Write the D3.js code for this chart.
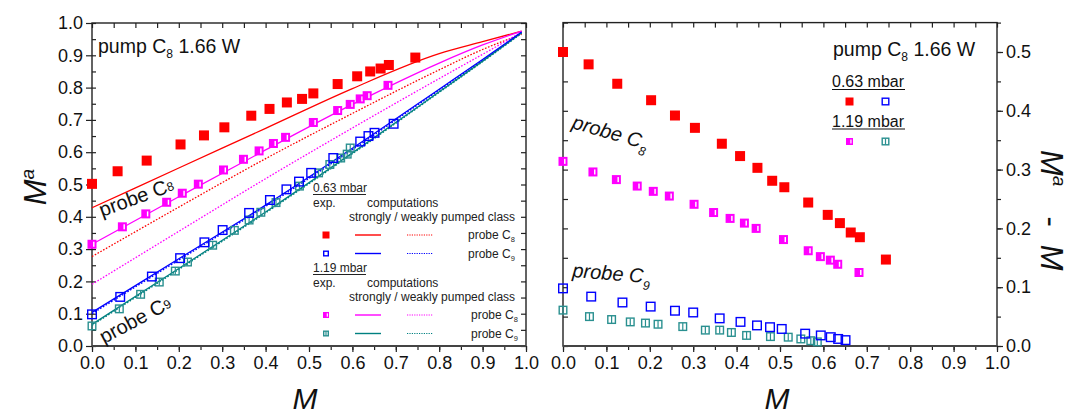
<!DOCTYPE html>
<html><head><meta charset="utf-8">
<script src="https://cdn.jsdelivr.net/npm/d3@7"></script>
<style>
body{margin:0;background:#fff}
svg{font-family:"Liberation Sans",Arial,sans-serif}
</style>
</head><body>
<svg id="c" width="1073" height="415"></svg>
<script>
// ---------- DATA ----------
const xTickValues = [0,0.1,0.2,0.3,0.4,0.5,0.6,0.7,0.8,0.9,1.0];
const leftYTickValues = [0,0.1,0.2,0.3,0.4,0.5,0.6,0.7,0.8,0.9,1.0];
const rightYTickValues = [0,0.1,0.2,0.3,0.4,0.5];

// left panel: M^a vs M (experiment)  [M, M^a]
const exp063C8 = [[0,0.502],[0.059,0.541],[0.126,0.574],[0.204,0.624],[0.258,0.652],[0.305,0.677],[0.367,0.713],[0.409,0.734],[0.449,0.754],[0.484,0.765],[0.510,0.782],[0.566,0.811],[0.611,0.835],[0.641,0.850],[0.665,0.859],[0.684,0.870],[0.745,0.893]];
const exp063C9 = [[0,0.098],[0.065,0.152],[0.138,0.215],[0.203,0.272],[0.259,0.321],[0.301,0.359],[0.362,0.412],[0.410,0.452],[0.448,0.485],[0.477,0.509],[0.505,0.536],[0.556,0.582],[0.618,0.633],[0.637,0.650],[0.651,0.660],[0.695,0.688]];
const exp119C8 = [[0,0.315],[0.070,0.369],[0.124,0.409],[0.172,0.445],[0.208,0.473],[0.245,0.501],[0.303,0.545],[0.349,0.578],[0.385,0.604],[0.418,0.627],[0.446,0.646],[0.510,0.692],[0.566,0.729],[0.595,0.748],[0.618,0.765],[0.634,0.775],[0.682,0.807]];
const exp119C9 = [[0,0.062],[0.063,0.115],[0.112,0.160],[0.155,0.198],[0.192,0.232],[0.220,0.260],[0.278,0.312],[0.328,0.358],[0.362,0.390],[0.389,0.414],[0.424,0.444],[0.478,0.495],[0.522,0.536],[0.548,0.562],[0.573,0.582],[0.588,0.594],[0.595,0.613]];

// left panel: computations [M, M^a]
const comp063C8Strong = [[0,0.428],[0.2,0.551],[0.4,0.674],[0.6,0.797],[0.8,0.905],[0.9,0.942],[0.99,0.975]];
const comp063C8Weak   = [[0,0.277],[0.2,0.430],[0.4,0.580],[0.6,0.720],[0.8,0.855],[0.9,0.918],[0.99,0.965]];
const comp063C9Strong = [[0,0.104],[0.2,0.270],[0.4,0.436],[0.6,0.612],[0.8,0.795],[0.9,0.887],[0.99,0.972]];
const comp063C9Weak   = [[0,0.100],[0.2,0.266],[0.4,0.432],[0.6,0.608],[0.8,0.792],[0.9,0.884],[0.99,0.970]];
const comp119C8Strong = [[0,0.315],[0.2,0.462],[0.4,0.607],[0.6,0.748],[0.8,0.876],[0.9,0.932],[0.99,0.975]];
const comp119C8Weak   = [[0,0.191],[0.2,0.355],[0.4,0.518],[0.6,0.675],[0.8,0.828],[0.9,0.903],[0.99,0.972]];
const comp119C9Strong = [[0,0.067],[0.2,0.240],[0.4,0.415],[0.6,0.598],[0.8,0.787],[0.9,0.882],[0.99,0.970]];
const comp119C9Weak   = [[0,0.064],[0.2,0.237],[0.4,0.412],[0.6,0.595],[0.8,0.785],[0.9,0.880],[0.99,0.968]];

// right panel: M^a - M vs M [M, M^a - M]
const diff063C8 = [[0,0.500],[0.059,0.479],[0.125,0.446],[0.203,0.418],[0.258,0.392],[0.304,0.371],[0.366,0.344],[0.408,0.323],[0.448,0.303],[0.482,0.281],[0.510,0.270],[0.565,0.244],[0.610,0.223],[0.638,0.209],[0.663,0.193],[0.684,0.185],[0.744,0.147]];
const diff119C8 = [[0,0.314],[0.069,0.296],[0.123,0.283],[0.171,0.272],[0.208,0.263],[0.245,0.255],[0.302,0.241],[0.347,0.227],[0.385,0.217],[0.418,0.209],[0.445,0.200],[0.508,0.181],[0.565,0.162],[0.593,0.152],[0.616,0.146],[0.633,0.139],[0.682,0.125]];
const diff063C9 = [[0,0.098],[0.065,0.084],[0.137,0.074],[0.202,0.067],[0.258,0.060],[0.300,0.057],[0.361,0.047],[0.409,0.041],[0.447,0.035],[0.477,0.032],[0.504,0.029],[0.558,0.021],[0.594,0.018],[0.617,0.015],[0.634,0.012],[0.651,0.010]];
const diff119C9 = [[0,0.061],[0.061,0.050],[0.112,0.045],[0.155,0.041],[0.190,0.039],[0.219,0.037],[0.276,0.033],[0.328,0.027],[0.361,0.027],[0.388,0.023],[0.423,0.018],[0.478,0.016],[0.519,0.015],[0.548,0.012],[0.571,0.009],[0.586,0.007]];

// ---------- STYLE ----------
const RED="#ff0000", BLUE="#0000ff", MAG="#ff00ff", TEAL="#008080", TEALM="#2a9090";
const svg = d3.select("#c");
const FONT = "Liberation Sans, Arial, sans-serif";

// scales
const xL = d3.scaleLinear().domain([0,1]).range([92,526]);
const yL = d3.scaleLinear().domain([0,1]).range([346,23]);
const xR = d3.scaleLinear().domain([0,1]).range([563,997]);
const yR = d3.scaleLinear().domain([0,0.55]).range([346,22.6]);

const minor = d3.range(0,1.0001,0.05).map(v=>+v.toFixed(2));
const minorR = d3.range(0,0.5501,0.05).map(v=>+v.toFixed(2));

function styleAxis(g){
  g.select(".domain").remove();
  g.selectAll("line").attr("stroke","#222").attr("stroke-width",1.2);
  g.selectAll("text").attr("font-size",18).attr("fill","#111").attr("font-family",FONT);
}

function frame(x,y){
  const [a,b]=x.range(), [c,d]=y.range();
  svg.append("rect").attr("x",a).attr("y",d).attr("width",b-a).attr("height",c-d)
    .attr("fill","none").attr("stroke","#222").attr("stroke-width",1.4);
  svg.append("line").attr("x1",a).attr("x2",b).attr("y1",c).attr("y2",c)
    .attr("stroke","#444").attr("stroke-width",2);
}

// ---- LEFT PANEL AXES ----
svg.append("g").attr("transform",`translate(0,${yL(0)})`)
  .call(d3.axisBottom(xL).tickValues(xTickValues).tickFormat(d3.format(".1f")).tickSize(6).tickPadding(4))
  .call(styleAxis);
svg.append("g").attr("transform",`translate(0,${yL(0)})`)
  .call(d3.axisBottom(xL).tickValues(minor).tickFormat("").tickSize(4)).call(styleAxis);
svg.append("g").attr("transform",`translate(0,${yL.range()[1]})`)
  .call(d3.axisBottom(xL).tickValues(minor).tickFormat("").tickSize(5)).call(styleAxis);
svg.append("g").attr("transform",`translate(${xL(0)},0)`)
  .call(d3.axisLeft(yL).tickValues(leftYTickValues).tickFormat(d3.format(".1f")).tickSize(6).tickPadding(3))
  .call(styleAxis);
svg.append("g").attr("transform",`translate(${xL(0)},0)`)
  .call(d3.axisRight(yL).tickValues(minor).tickFormat("").tickSize(4)).call(styleAxis);
svg.append("g").attr("transform",`translate(${xL(1)},0)`)
  .call(d3.axisLeft(yL).tickValues(minor).tickFormat("").tickSize(5)).call(styleAxis);
frame(xL,yL);

// ---- RIGHT PANEL AXES ----
svg.append("g").attr("transform",`translate(0,${yR(0)})`)
  .call(d3.axisBottom(xR).tickValues(xTickValues).tickFormat(d3.format(".1f")).tickSize(6).tickPadding(4))
  .call(styleAxis);
svg.append("g").attr("transform",`translate(0,${yR(0)})`)
  .call(d3.axisBottom(xR).tickValues(minor).tickFormat("").tickSize(4)).call(styleAxis);
svg.append("g").attr("transform",`translate(0,${yR.range()[1]})`)
  .call(d3.axisBottom(xR).tickValues(minor).tickFormat("").tickSize(5)).call(styleAxis);
svg.append("g").attr("transform",`translate(${xR(0)},0)`)
  .call(d3.axisRight(yR).tickValues(minorR).tickFormat("").tickSize(5)).call(styleAxis);
svg.append("g").attr("transform",`translate(${xR(1)},0)`)
  .call(d3.axisRight(yR).tickValues(rightYTickValues).tickFormat(d3.format(".1f")).tickSize(6).tickPadding(3))
  .call(styleAxis);
svg.append("g").attr("transform",`translate(${xR(1)},0)`)
  .call(d3.axisRight(yR).tickValues(minorR).tickFormat("").tickSize(4)).call(styleAxis);
frame(xR,yR);

// ---------- MARKERS ----------
function marker(g, type, cx, cy, s){
  s = s||9;
  const h=s/2;
  if(type==="redFilled"){
    g.append("rect").attr("x",cx-h-0.5).attr("y",cy-h-0.5).attr("width",s+1).attr("height",s+1).attr("fill",RED);
  } else if(type==="blueOpen"){
    g.append("rect").attr("x",cx-h+0.7).attr("y",cy-h+0.7).attr("width",s-1.4).attr("height",s-1.4)
      .attr("fill","none").attr("stroke",BLUE).attr("stroke-width",1.4);
  } else if(type==="magHalf"){
    g.append("rect").attr("x",cx-h).attr("y",cy-h).attr("width",s).attr("height",s).attr("fill",MAG);
    g.append("rect").attr("x",cx+s*0.12).attr("y",cy-h+s*0.22).attr("width",Math.max(1.2,s*0.16)).attr("height",s*0.56).attr("fill","#fff");
  } else if(type==="tealBar"){
    g.append("rect").attr("x",cx-h+0.7).attr("y",cy-h+0.7).attr("width",s-1.4).attr("height",s-1.4)
      .attr("fill","none").attr("stroke",TEALM).attr("stroke-width",1.4);
    g.append("line").attr("x1",cx).attr("x2",cx).attr("y1",cy-h+1).attr("y2",cy+h-1)
      .attr("stroke",TEALM).attr("stroke-width",1.2);
  }
}
function points(data, x, y, type, s){
  const g = svg.append("g");
  data.forEach(d=>marker(g,type,x(d[0]),y(d[1]),s));
}

// ---------- LEFT LINES ----------
function curve(data, color, dotted){
  const line = d3.line().x(d=>xL(d[0])).y(d=>yL(d[1])).curve(d3.curveMonotoneX);
  svg.append("path").datum(data).attr("d",line).attr("fill","none").attr("stroke",color)
    .attr("stroke-width",1.3).attr("stroke-dasharray",dotted?"1.6,1.6":null);
}
curve(comp063C8Weak,RED,true);
curve(comp119C8Weak,MAG,true);
curve(comp119C9Weak,TEAL,true);
curve(comp063C9Weak,BLUE,true);
curve(comp063C8Strong,RED,false);
curve(comp119C8Strong,MAG,false);
curve(comp119C9Strong,TEAL,false);
curve(comp063C9Strong,BLUE,false);

points(exp063C8,xL,yL,"redFilled",9);
points(exp119C8,xL,yL,"magHalf",9);
points(exp119C9,xL,yL,"tealBar",9);
points(exp063C9,xL,yL,"blueOpen",10);

points(diff063C8,xR,yR,"redFilled",9);
points(diff119C8,xR,yR,"magHalf",9);
points(diff119C9,xR,yR,"tealBar",9);
points(diff063C9,xR,yR,"blueOpen",10);

// ---------- TEXT ----------
function subText(x,y,main,sub,rest,size,opts){
  opts=opts||{};
  const t = svg.append("text").attr("x",x).attr("y",y).attr("font-size",size).attr("fill","#111")
    .attr("font-family",FONT);
  if(opts.italic) t.attr("font-style","italic");
  if(opts.rotate!=null) t.attr("transform",`rotate(${opts.rotate},${x},${y})`);
  t.append("tspan").text(main);
  t.append("tspan").attr("font-size",size*0.62).attr("dy",size*(opts.subDy||0.28)).text(sub);
  if(rest) t.append("tspan").attr("dy",-size*(opts.subDy||0.28)).text(rest);
  return t;
}
subText(98,53,"pump C","8"," 1.66 W",19.5);
subText(102,217,"probe C","8",null,20,{rotate:-20,subDy:-0.05});
subText(104,344,"probe C","9",null,20,{rotate:-28,subDy:-0.05});
subText(833,56,"pump C","8"," 1.66 W",19.5);
subText(571,128,"probe C","8",null,20,{rotate:16,italic:true,subDy:0.35});
subText(572,277,"probe C","9",null,20,{rotate:4.5,italic:true,subDy:0.35});

function underlined(x,y,txt,size,w){
  svg.append("text").attr("x",x).attr("y",y).attr("font-size",size).attr("fill","#111").attr("font-family",FONT).text(txt);
  svg.append("line").attr("x1",x).attr("x2",x+w).attr("y1",y+2.5).attr("y2",y+2.5).attr("stroke","#111").attr("stroke-width",1.2);
}
underlined(832,87,"0.63 mbar",16,73);
underlined(832,126.5,"1.19 mbar",16,73);
{
  const g=svg.append("g");
  marker(g,"redFilled",849.5,101.5,7);
  marker(g,"blueOpen",885.5,101.5,8);
  marker(g,"magHalf",849.5,141.5,7);
  marker(g,"tealBar",885.5,141.5,8);
}

function lt(x,y,txt,size){
  return svg.append("text").attr("x",x).attr("y",y).attr("font-size",size||12).attr("fill","#222").attr("font-family",FONT).text(txt);
}
function legendBlock(y0, title, rows){
  lt(313,y0,title,12);
  svg.append("line").attr("x1",313).attr("x2",366).attr("y1",y0+2.5).attr("y2",y0+2.5).attr("stroke","#222").attr("stroke-width",1);
  lt(313,y0+15,"exp.");
  lt(367,y0+15,"computations");
  lt(349,y0+29,"strongly  /  weakly pumped class");
  rows.forEach((r,i)=>{
    const yy = y0+43+i*18.5;
    const g=svg.append("g");
    marker(g,r.m,326,yy,6);
    svg.append("line").attr("x1",355).attr("x2",381).attr("y1",yy).attr("y2",yy).attr("stroke",r.c).attr("stroke-width",1.4);
    svg.append("line").attr("x1",407).attr("x2",433).attr("y1",yy).attr("y2",yy).attr("stroke",r.c).attr("stroke-width",1.2).attr("stroke-dasharray","1.2,1.2");
    const t=lt(r.tx,yy+4,"probe C",12);
    t.append("tspan").attr("font-size",7.5).attr("dy",3).text(r.s);
  });
}
legendBlock(192,"0.63 mbar",[{m:"redFilled",c:RED,s:"8",tx:468},{m:"blueOpen",c:BLUE,s:"9",tx:468}]);
legendBlock(272,"1.19 mbar",[{m:"magHalf",c:MAG,s:"8",tx:471},{m:"tealBar",c:TEAL,s:"9",tx:471}]);

// axis titles
svg.append("text").attr("x",305).attr("y",409).attr("text-anchor","middle").attr("font-size",30)
  .attr("font-style","italic").attr("font-family",FONT).attr("fill","#111").text("M");
svg.append("text").attr("x",777).attr("y",409).attr("text-anchor","middle").attr("font-size",30)
  .attr("font-style","italic").attr("font-family",FONT).attr("fill","#111").text("M");
{
  const t=svg.append("text").attr("transform","translate(46,187) rotate(-90)").attr("text-anchor","middle")
    .attr("font-size",31).attr("font-style","italic").attr("font-family",FONT).attr("fill","#111");
  t.append("tspan").text("M");
  t.append("tspan").attr("font-size",19).attr("dy",-12).text("a");
}
{
  const t=svg.append("text").attr("transform","translate(1041,150) rotate(90)").attr("text-anchor","start")
    .attr("font-size",31).attr("font-style","italic").attr("font-family",FONT).attr("fill","#111");
  t.append("tspan").text("M");
  t.append("tspan").attr("font-size",19).attr("dy",-12).text("a");
  t.append("tspan").attr("dy",12).attr("dx",30).attr("font-style","normal").text("-");
  t.append("tspan").attr("dx",18).text("M");
}
</script>
</body></html>
